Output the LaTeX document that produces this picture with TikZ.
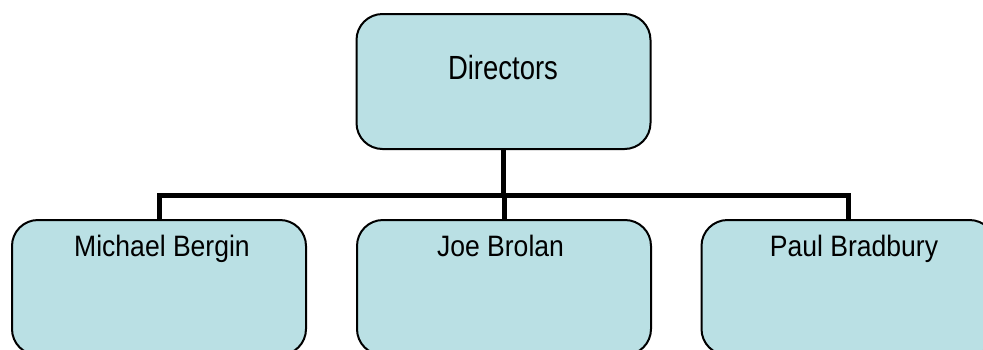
\documentclass[tikz,border=0pt]{standalone}
\usepackage{fontspec}
\setmainfont{Liberation Sans}
\usetikzlibrary{calc}
\definecolor{boxfill}{RGB}{186,224,228}
\tikzset{
  orgbox/.style={draw=black, line width=2pt, fill=boxfill, rounded corners=26pt,
    minimum width=294pt, minimum height=135pt, inner sep=0pt},
  toplbl/.style={anchor=base, inner sep=0pt, font=\fontsize{33.5}{36}\selectfont},
  botlbl/.style={anchor=base, inner sep=0pt, font=\fontsize{29.5}{32}\selectfont},
  conn/.style={line width=5pt, draw=black}
}
\begin{document}
\begin{tikzpicture}[x=1pt,y=-1pt]
\path[use as bounding box, clip] (0,0) rectangle (983,349);
\fill[white] (0,0) rectangle (983,349);
\node[orgbox] (top) at (503.5,81.5) {};
\node[orgbox] (b1) at (159,287.5) {};
\node[orgbox] (b2) at (504,287.5) {};
\node[orgbox] (b3) at (848.5,287.5) {};
\coordinate (j) at (503.5,195);
\draw[conn] (top.south) -- (j);
\draw[conn] (b1.north) |- (j) -| (b3.north);
\draw[conn] (b2.north |- j) -- (b2.north);
\node[toplbl] (t0) at (503,79.5) {\scalebox{0.82}[1]{Directors}};
\node[botlbl] (t1) at (162,256) {\scalebox{0.9}[1]{Michael Bergin}};
\node[botlbl] (t2) at (500.5,256) {\scalebox{0.9}[1]{Joe Brolan}};
\node[botlbl] (t3) at (854,256) {\scalebox{0.9}[1]{Paul Bradbury}};
\end{tikzpicture}
\end{document}
